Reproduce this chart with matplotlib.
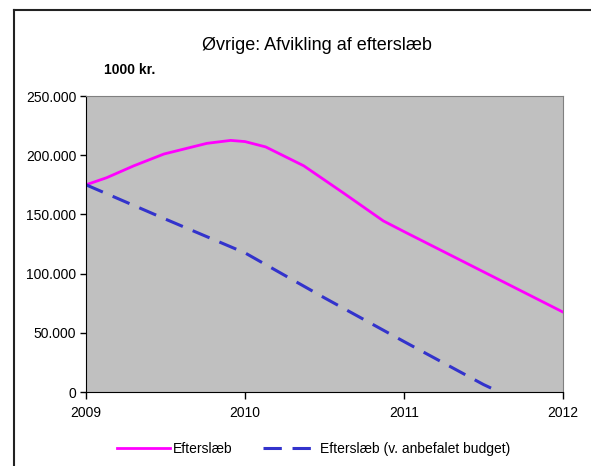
import matplotlib.pyplot as plt
from matplotlib.ticker import FuncFormatter
from matplotlib.lines import Line2D

plt.rcParams['font.family'] = ['Liberation Sans', 'DejaVu Sans']

# data (1000 kr.)
years_a = [2009.0, 2009.13, 2009.3, 2009.49, 2009.76, 2009.91, 2010.0, 2010.13,
           2010.37, 2010.62, 2010.87, 2011.0, 2011.25, 2011.5, 2011.75, 2012.0]
efterslaeb = [175000, 181000, 191000, 201000, 210000, 212500, 211500, 207000,
              191000, 168000, 144500, 135500, 118500, 101500, 84500, 67500]

years_b = [2009.0, 2009.5, 2010.0, 2010.5, 2011.0, 2011.5, 2011.6]
efterslaeb_budget = [175000, 146000, 117500, 79500, 42600, 6300, 0]

x_ticks = [2009, 2010, 2011, 2012]
y_ticks = [0, 50000, 100000, 150000, 200000, 250000]

W, H = 591, 466
fig = plt.figure(figsize=(W / 100, H / 100), dpi=100)
ax = fig.add_axes([86 / W, 1 - 392 / H, (563 - 86) / W, (392 - 96) / H])
ax.set_facecolor('#C0C0C0')

ax.plot(years_a, efterslaeb, color='#FF00FF', lw=2.0, label='Efterslæb')
ax.plot(years_b, efterslaeb_budget, color='#3333CC', lw=2.2, dashes=(6, 3.5),
        label='Efterslæb (v. anbefalet budget)')

ax.set_xlim(2009, 2012)
ax.set_ylim(0, 250000)
ax.set_xticks(x_ticks)
ax.set_yticks(y_ticks)
ax.yaxis.set_major_formatter(FuncFormatter(lambda v, p: '0' if v == 0 else f'{int(v):,}'.replace(',', '.')))
ax.tick_params(axis='y', direction='out', length=4, width=1, pad=3, labelsize=10)
ax.tick_params(axis='x', direction='out', length=5, width=1, pad=5, labelsize=10)
for s in ['top', 'right']:
    ax.spines[s].set_color('#808080')
for s in ['left', 'bottom']:
    ax.spines[s].set_color('black')

fig.text(317 / W, 1 - 45 / H, 'Øvrige: Afvikling af efterslæb', ha='center', va='center', fontsize=13)
fig.text(104 / W, 1 - 70 / H, '1000 kr.', ha='left', va='center', fontsize=10, fontweight='bold')

fig.legend(loc='center', bbox_to_anchor=(313.5 / W, 1 - 449 / H), ncol=2, frameon=False,
           fontsize=10, handlelength=3.8, handletextpad=0.25, columnspacing=2.2)

# outer chart frame (cropped)
fig.add_artist(Line2D([14 / W, 14 / W], [0, 1 - 10 / H], color='#222222', lw=1.5, transform=fig.transFigure))
fig.add_artist(Line2D([14 / W, 1], [1 - 10 / H, 1 - 10 / H], color='#222222', lw=1.5, transform=fig.transFigure))

fig.savefig('out.png', dpi=100)
